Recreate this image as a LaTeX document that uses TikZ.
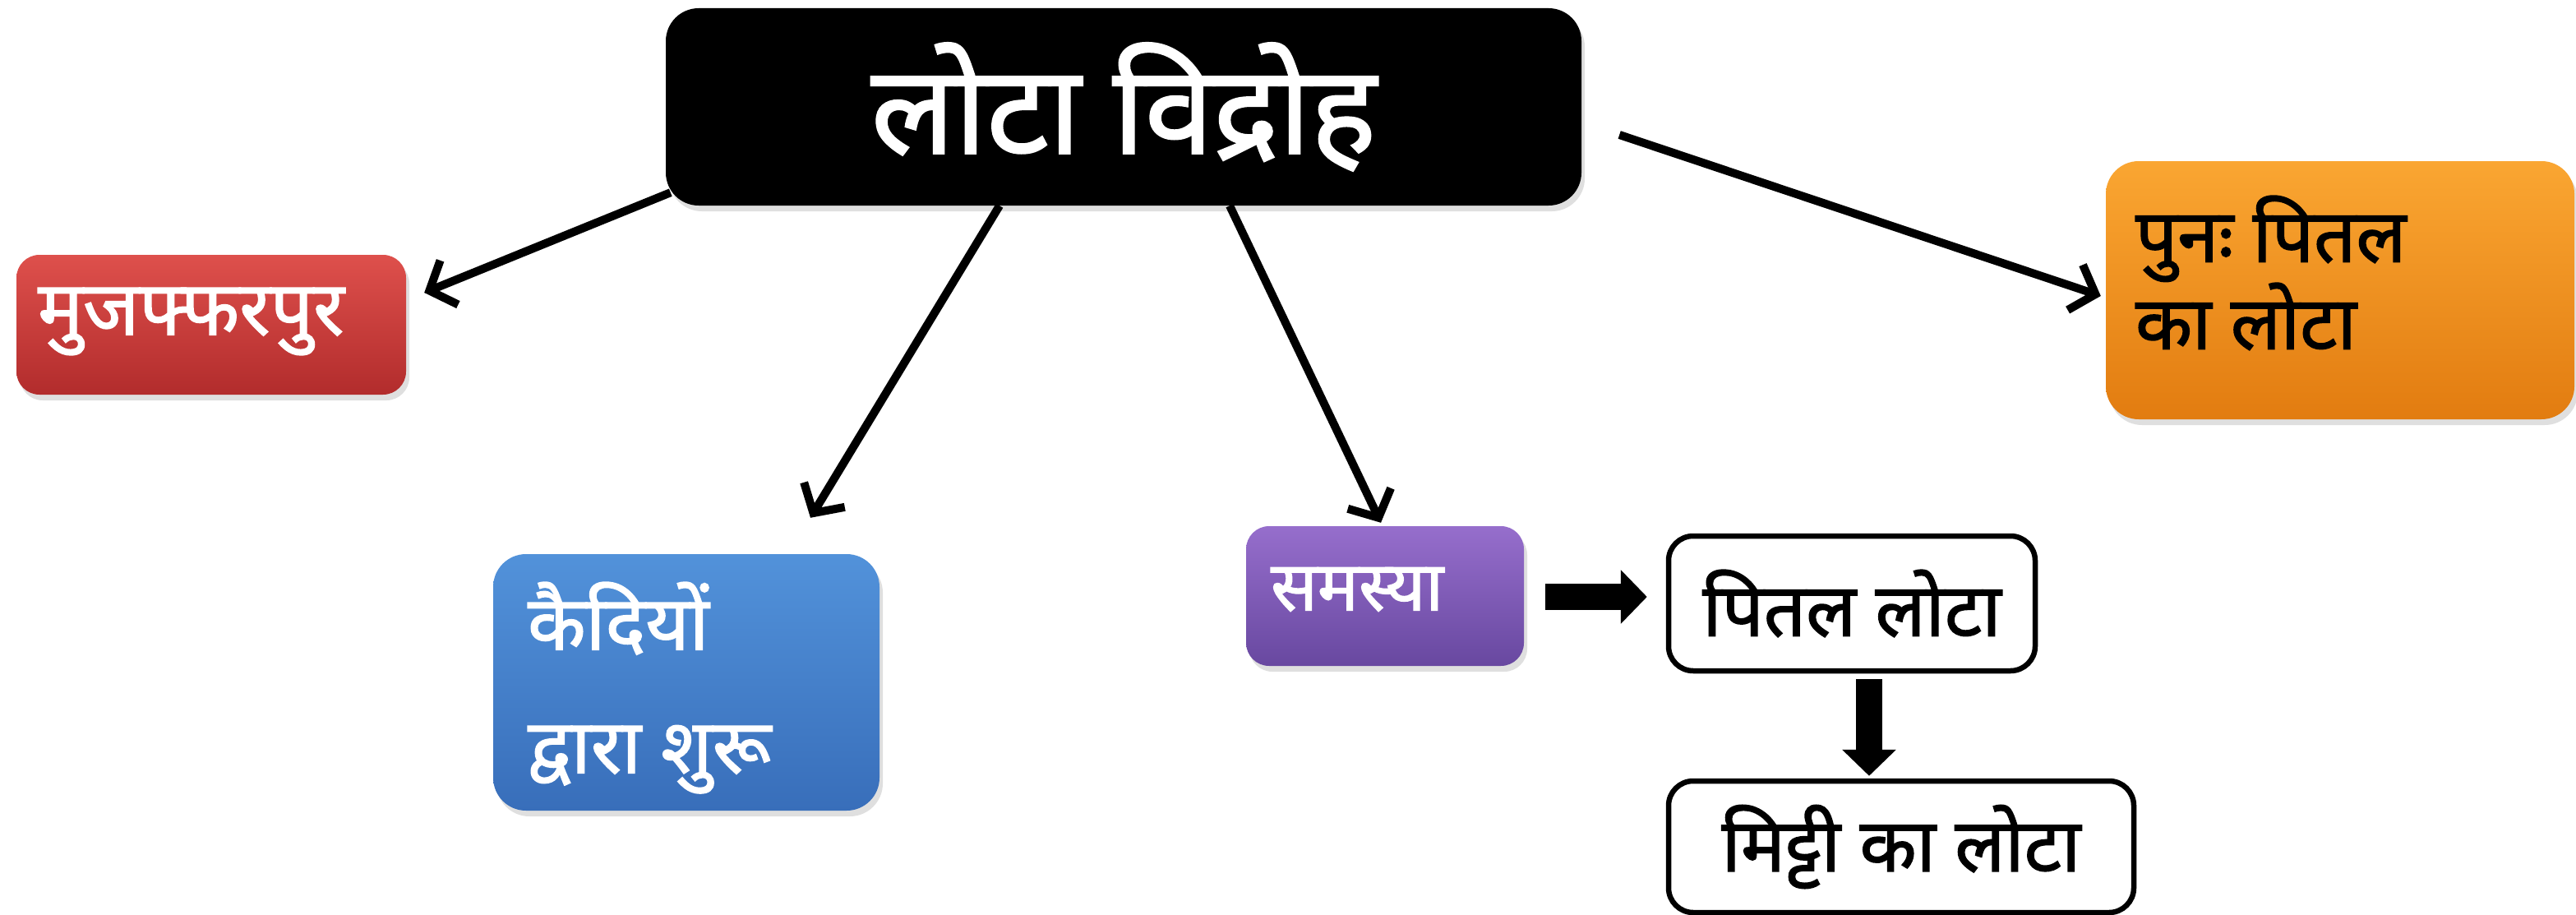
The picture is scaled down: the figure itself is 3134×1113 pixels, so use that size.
\documentclass[tikz,border=0pt]{standalone}
\usepackage{fontspec}
\setmainfont{Liberation Sans}
\newfontfamily\deva[Script=Devanagari,FakeBold=1.6]{Noto Sans}
\usetikzlibrary{arrows.meta,shadows,calc}
\begin{document}
\begin{tikzpicture}[x=1pt,y=-1pt,
  box/.style={rounded corners=28pt, inner sep=0pt, align=left,
    drop shadow={opacity=0.25, shadow xshift=4pt, shadow yshift=-7pt}},
  conn/.style={line width=10pt, -{Straight Barb[length=26pt,width=58pt]}},
  blockarrow/.style={line width=32pt, -{Triangle[length=32pt,width=64pt]}},
  btxt/.style={font=\deva\fontsize{92}{150}\selectfont, text=white, align=left, inner sep=0pt},
  wbox/.style={draw=black, line width=6.5pt, rounded corners=30pt, fill=white, inner sep=0pt,
    font=\deva\fontsize{90}{110}\selectfont}]
\useasboundingbox (0,0) rectangle (3134,1113);
\fill[white] (0,0) rectangle (3134,1113);

\node[box, fill=black, rounded corners=40pt, minimum width=1114pt, minimum height=240pt,
  text=white, font=\deva\fontsize{150}{170}\selectfont] (root) at (1367,130) {लोटा विद्रोह};

\node[box, top color={rgb,255:red,222;green,80;blue,76}, bottom color={rgb,255:red,178;green,44;blue,44},
  minimum width=474pt, minimum height=170pt] (red) at (257,395) {};
\node[btxt, anchor=west] (redt) at ($(red.west)+(26,-4)$) {मुजफ्फरपुर};

\node[box, top color={rgb,255:red,82;green,146;blue,218}, bottom color={rgb,255:red,56;green,110;blue,186},
  rounded corners=40pt, minimum width=470pt, minimum height=312pt] (blue) at (835,830) {};
\node[btxt, anchor=north west] (bluet) at ($(blue.north west)+(42,34)$) {कैदियों\\द्वारा शुरू};

\node[box, top color={rgb,255:red,150;green,110;blue,204}, bottom color={rgb,255:red,104;green,72;blue,160},
  minimum width=338pt, minimum height=170pt] (purple) at (1685,725) {};
\node[btxt, font=\deva\fontsize{84}{100}\selectfont, anchor=west] (purplet) at ($(purple.west)+(30,-8)$) {समस्या};

\node[box, top color={rgb,255:red,250;green,166;blue,50}, bottom color={rgb,255:red,226;green,124;blue,16},
  rounded corners=40pt, minimum width=570pt, minimum height=314pt] (orange) at (2847,353) {};
\node[btxt, text=black, font=\deva\fontsize{90}{106}\selectfont, anchor=north west] (oranget)
  at ($(orange.north west)+(36,42)$) {पुनः पितल\\का लोटा};

\node[wbox, minimum width=446pt, minimum height=164pt] (w1) at (2253,734) {पितल लोटा};
\node[wbox, minimum width=566pt, minimum height=160pt] (w2) at (2313,1030) {मिट्टी का लोटा};

\draw[conn] ($(root.south west)+(6,-16)$) -- ($(red.east)+(22,-39)$);
\draw[conn] ($(root.south)+(-151,0)$) -- ($(blue.north)+(151,-44)$);
\draw[conn] ($(root.south)+(129,0)$) -- ($(purple.north)+(-5,-4)$);
\draw[conn] ($(root.east)+(46,34)$) -- ($(orange.west)+(-6,7)$);

\draw[blockarrow] ($(purple.east)+(26,1)$) -- ($(w1.west)+(-23,-8)$);
\draw[blockarrow] ($(w1.south)+(21,7)$) -- ($(w2.north)+(-39,-3)$);
\end{tikzpicture}
\end{document}
